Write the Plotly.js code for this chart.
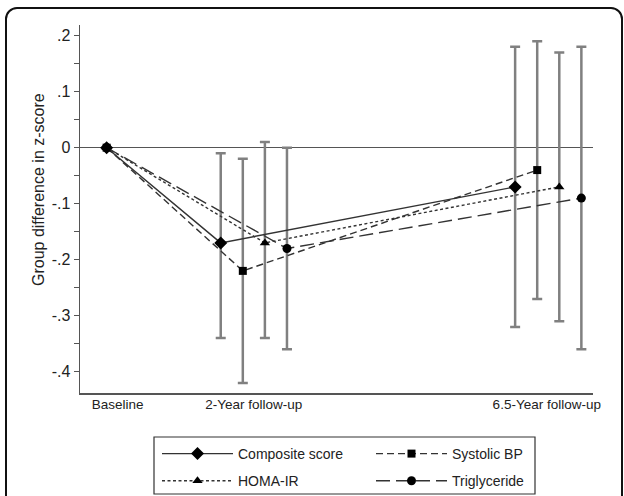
<!DOCTYPE html>
<html>
<head>
<meta charset="utf-8">
<script src="https://cdn.plot.ly/plotly-3.0.1.min.js"></script>
<style>
  html, body { margin: 0; padding: 0; background: #fff; overflow: hidden; }
  #chart { width: 624px; height: 496px; position: absolute; left: 0; top: 0; }
  #frame { position: absolute; left: 5px; top: 7px; width: 614px; height: 520px;
           border: 2px solid #111; border-radius: 12px; pointer-events: none; }
</style>
</head>
<body>
<div id="chart"></div>
<div id="frame"></div>
<script>
// ---- data ----
const timeLabels = ["Baseline", "2-Year follow-up", "6.5-Year follow-up"];
const timePos = [0, 1, 3];
const seriesNames = ["Composite score", "Systolic BP", "HOMA-IR", "Triglyceride"];

const composite = [0, -0.17, -0.07];
const systolic  = [0, -0.22, -0.04];
const homa      = [0, -0.17, -0.07];
const trig      = [0, -0.18, -0.09];

// 95% CI at follow-ups (2-year, 6.5-year)
const compositeLo = [-0.34, -0.32], compositeHi = [-0.01, 0.18];
const systolicLo  = [-0.42, -0.27], systolicHi  = [-0.02, 0.19];
const homaLo      = [-0.34, -0.31], homaHi      = [0.01, 0.17];
const trigLo      = [-0.36, -0.36], trigHi      = [0.00, 0.18];

const yTickVals = [0.2, 0.15, 0.1, 0.05, 0, -0.05, -0.1, -0.15, -0.2, -0.25, -0.3, -0.35, -0.4];
const yTickText = [".2", "", ".1", "", "0", "", "-.1", "", "-.2", "", "-.3", "", "-.4"];

// ---- styling ----
const offsets = [-0.225, -0.075, 0.075, 0.225];
const dashes = ["solid", "7px,4px", "3px,2.5px", "14px,6px"];
const symbols = ["diamond", "square", "triangle-up", "circle"];
const sizes = [10, 8, 9, 9];
const legendIds = ["legend", "legend2", "legend", "legend2"];
const vals = [composite, systolic, homa, trig];
const los = [compositeLo, systolicLo, homaLo, trigLo];
const his = [compositeHi, systolicHi, homaHi, trigHi];

function xs(k) {
  return timePos.map((t, i) => i === 0 ? t : t + offsets[k]);
}

const traces = [];
// error bars (drawn first, beneath)
for (let k = 0; k < 4; k++) {
  const x = xs(k).slice(1);
  const y = vals[k].slice(1);
  traces.push({
    type: "scatter", mode: "markers", x: x, y: y,
    marker: { opacity: 0, size: 1 },
    showlegend: false, hoverinfo: "skip",
    error_y: {
      type: "data", symmetric: false,
      array: y.map((v, i) => his[k][i] - v),
      arrayminus: y.map((v, i) => v - los[k][i]),
      color: "#808080", thickness: 2.5, width: 5
    }
  });
}
// lines + markers
for (let k = 0; k < 4; k++) {
  traces.push({
    type: "scatter", mode: "lines+markers", name: seriesNames[k],
    x: xs(k), y: vals[k],
    legend: legendIds[k], legendgroup: "g" + k,
    line: { color: "#333", width: 1.4, dash: dashes[k] },
    marker: { symbol: symbols[k], size: sizes[k], color: "#000" }
  });
}

const font = { family: "Liberation Sans, Arial, sans-serif", size: 14, color: "#222" };
const legendBase = {
  yanchor: "top", xanchor: "left", orientation: "v",
  borderwidth: 0, bgcolor: "rgba(0,0,0,0)",
  itemwidth: 71, tracegroupgap: 6, traceorder: "grouped",
  font: font
};

// plot area in px: x 80..593, y 25..393
const W = 513, H = 368;
const px = p => (p - 80) / W;
const py = p => (393 - p) / H;

const layout = {
  width: 624, height: 496,
  margin: { l: 80, r: 31, t: 25, b: 103, autoexpand: false },
  paper_bgcolor: "#fff", plot_bgcolor: "#fff",
  font: font,
  showlegend: true,
  legend: Object.assign({}, legendBase, { x: px(157), y: py(438) }),
  legend2: Object.assign({}, legendBase, { x: px(371), y: py(438) }),
  shapes: [{
    type: "rect", xref: "paper", yref: "paper",
    x0: px(154), x1: px(535), y0: py(437), y1: py(494),
    line: { color: "#333", width: 1.2 }, fillcolor: "rgba(0,0,0,0)", layer: "above"
  }],
  annotations: [{
    text: "Group difference in z-score", textangle: -90,
    xref: "paper", yref: "paper", x: px(38), y: py(190),
    xanchor: "center", yanchor: "middle", showarrow: false,
    font: { family: font.family, size: 16, color: "#222" }
  }],
  xaxis: {
    range: [-0.181, 3.304], showgrid: false, zeroline: false,
    showline: true, linecolor: "#555", linewidth: 1.5,
    tickmode: "array", tickvals: [0.075, 1, 2.99], ticktext: timeLabels,
    ticks: "", ticklabelstandoff: -2,
    tickfont: { family: font.family, size: 13.5, color: "#222" }, fixedrange: true
  },
  yaxis: {
    range: [-0.438, 0.219], showgrid: false,
    zeroline: true, zerolinecolor: "#555", zerolinewidth: 1.5,
    showline: true, linecolor: "#555", linewidth: 1.5,
    tickmode: "array", tickvals: yTickVals, ticktext: yTickText,
    ticks: "outside", ticklen: 5, tickcolor: "#555", tickwidth: 1.2,
    tickfont: { family: font.family, size: 16, color: "#222" },
    fixedrange: true
  }
};

Plotly.newPlot("chart", traces, layout, { displayModeBar: false, staticPlot: true });
</script>
</body>
</html>
